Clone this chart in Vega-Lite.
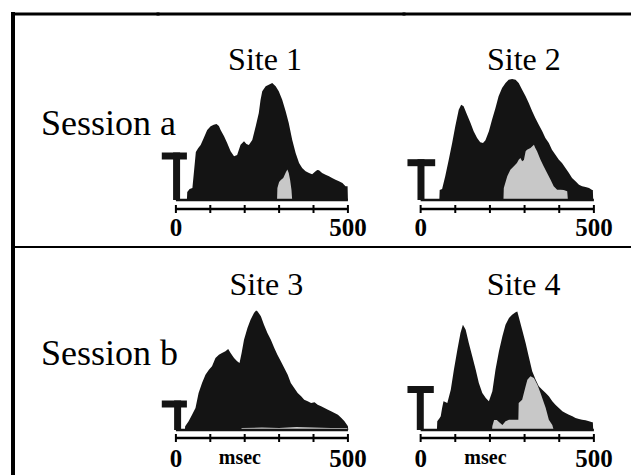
{
  "$schema": "https://vega.github.io/schema/vega-lite/v6.json",
  "padding": {"left": 10, "top": 11, "right": 0, "bottom": 0},
  "background": "white",
  "columns": 3,
  "spacing": 0,
  "bounds": "flush",
  "align": "each",
  "datasets": {
    "ticks": [{"t": 0}, {"t": 100}, {"t": 200}, {"t": 300}, {"t": 400}, {"t": 500}],
    "labels": [{"t": 0, "lab": "0"}, {"t": 500, "lab": "500"}],
    "hist": [
      {"p": "s1", "k": "h", "t": 32, "v": 0}, {"p": "s1", "k": "h", "t": 33, "v": 8}, {"p": "s1", "k": "h", "t": 40, "v": 11}, {"p": "s1", "k": "h", "t": 48, "v": 12}, {"p": "s1", "k": "h", "t": 53, "v": 30}, {"p": "s1", "k": "h", "t": 58, "v": 48}, {"p": "s1", "k": "h", "t": 65, "v": 52}, {"p": "s1", "k": "h", "t": 72, "v": 55}, {"p": "s1", "k": "h", "t": 81, "v": 62}, {"p": "s1", "k": "h", "t": 91, "v": 70}, {"p": "s1", "k": "h", "t": 101, "v": 73.7}, {"p": "s1", "k": "h", "t": 110, "v": 75.3}, {"p": "s1", "k": "h", "t": 118, "v": 76}, {"p": "s1", "k": "h", "t": 125, "v": 74}, {"p": "s1", "k": "h", "t": 130, "v": 70}, {"p": "s1", "k": "h", "t": 140, "v": 63.7}, {"p": "s1", "k": "h", "t": 149, "v": 57}, {"p": "s1", "k": "h", "t": 159, "v": 48.7}, {"p": "s1", "k": "h", "t": 169, "v": 43.7}, {"p": "s1", "k": "h", "t": 178, "v": 45}, {"p": "s1", "k": "h", "t": 188, "v": 55.3}, {"p": "s1", "k": "h", "t": 198, "v": 58.7}, {"p": "s1", "k": "h", "t": 205, "v": 56}, {"p": "s1", "k": "h", "t": 212, "v": 55}, {"p": "s1", "k": "h", "t": 222, "v": 60}, {"p": "s1", "k": "h", "t": 232, "v": 73.7}, {"p": "s1", "k": "h", "t": 241, "v": 87}, {"p": "s1", "k": "h", "t": 246, "v": 100}, {"p": "s1", "k": "h", "t": 251, "v": 108.7}, {"p": "s1", "k": "h", "t": 261, "v": 113.7}, {"p": "s1", "k": "h", "t": 270, "v": 115.3}, {"p": "s1", "k": "h", "t": 280, "v": 117}, {"p": "s1", "k": "h", "t": 290, "v": 113.7}, {"p": "s1", "k": "h", "t": 299, "v": 108.7}, {"p": "s1", "k": "h", "t": 309, "v": 100.3}, {"p": "s1", "k": "h", "t": 319, "v": 88.7}, {"p": "s1", "k": "h", "t": 328, "v": 77}, {"p": "s1", "k": "h", "t": 338, "v": 60.3}, {"p": "s1", "k": "h", "t": 348, "v": 47}, {"p": "s1", "k": "h", "t": 358, "v": 37}, {"p": "s1", "k": "h", "t": 367, "v": 32}, {"p": "s1", "k": "h", "t": 377, "v": 28.7}, {"p": "s1", "k": "h", "t": 387, "v": 27}, {"p": "s1", "k": "h", "t": 396, "v": 25.7}, {"p": "s1", "k": "h", "t": 406, "v": 28.7}, {"p": "s1", "k": "h", "t": 411, "v": 30}, {"p": "s1", "k": "h", "t": 416, "v": 29.7}, {"p": "s1", "k": "h", "t": 425, "v": 27}, {"p": "s1", "k": "h", "t": 435, "v": 25.3}, {"p": "s1", "k": "h", "t": 445, "v": 23.7}, {"p": "s1", "k": "h", "t": 454, "v": 22}, {"p": "s1", "k": "h", "t": 464, "v": 20.3}, {"p": "s1", "k": "h", "t": 474, "v": 18.7}, {"p": "s1", "k": "h", "t": 484, "v": 17}, {"p": "s1", "k": "h", "t": 493, "v": 13.7}, {"p": "s1", "k": "h", "t": 499, "v": 13.7}, {"p": "s1", "k": "h", "t": 500, "v": 0},
      {"p": "s1", "k": "s", "t": 294, "v": 0}, {"p": "s1", "k": "s", "t": 295, "v": 12}, {"p": "s1", "k": "s", "t": 300, "v": 18}, {"p": "s1", "k": "s", "t": 305, "v": 20}, {"p": "s1", "k": "s", "t": 312, "v": 22}, {"p": "s1", "k": "s", "t": 316, "v": 25}, {"p": "s1", "k": "s", "t": 320, "v": 28}, {"p": "s1", "k": "s", "t": 324, "v": 30.5}, {"p": "s1", "k": "s", "t": 328, "v": 27}, {"p": "s1", "k": "s", "t": 332, "v": 20}, {"p": "s1", "k": "s", "t": 336, "v": 10}, {"p": "s1", "k": "s", "t": 338, "v": 0},
      {"p": "s2", "k": "h", "t": 54, "v": 0}, {"p": "s2", "k": "h", "t": 55, "v": 10}, {"p": "s2", "k": "h", "t": 62, "v": 11}, {"p": "s2", "k": "h", "t": 71, "v": 23.7}, {"p": "s2", "k": "h", "t": 81, "v": 40}, {"p": "s2", "k": "h", "t": 91, "v": 57}, {"p": "s2", "k": "h", "t": 100, "v": 73.7}, {"p": "s2", "k": "h", "t": 110, "v": 90.3}, {"p": "s2", "k": "h", "t": 117, "v": 95.3}, {"p": "s2", "k": "h", "t": 124, "v": 93.7}, {"p": "s2", "k": "h", "t": 134, "v": 85.3}, {"p": "s2", "k": "h", "t": 144, "v": 77}, {"p": "s2", "k": "h", "t": 153, "v": 68.7}, {"p": "s2", "k": "h", "t": 163, "v": 62}, {"p": "s2", "k": "h", "t": 172, "v": 57.7}, {"p": "s2", "k": "h", "t": 180, "v": 57}, {"p": "s2", "k": "h", "t": 187, "v": 59.7}, {"p": "s2", "k": "h", "t": 197, "v": 68.7}, {"p": "s2", "k": "h", "t": 206, "v": 80.3}, {"p": "s2", "k": "h", "t": 216, "v": 92}, {"p": "s2", "k": "h", "t": 225, "v": 103.7}, {"p": "s2", "k": "h", "t": 235, "v": 112}, {"p": "s2", "k": "h", "t": 245, "v": 117}, {"p": "s2", "k": "h", "t": 254, "v": 120.3}, {"p": "s2", "k": "h", "t": 264, "v": 121}, {"p": "s2", "k": "h", "t": 274, "v": 120.3}, {"p": "s2", "k": "h", "t": 283, "v": 117}, {"p": "s2", "k": "h", "t": 293, "v": 110.3}, {"p": "s2", "k": "h", "t": 303, "v": 103.7}, {"p": "s2", "k": "h", "t": 312, "v": 97}, {"p": "s2", "k": "h", "t": 322, "v": 88.7}, {"p": "s2", "k": "h", "t": 331, "v": 82}, {"p": "s2", "k": "h", "t": 341, "v": 75.3}, {"p": "s2", "k": "h", "t": 351, "v": 68.7}, {"p": "s2", "k": "h", "t": 360, "v": 62}, {"p": "s2", "k": "h", "t": 370, "v": 57}, {"p": "s2", "k": "h", "t": 379, "v": 50.3}, {"p": "s2", "k": "h", "t": 389, "v": 45.3}, {"p": "s2", "k": "h", "t": 399, "v": 40.3}, {"p": "s2", "k": "h", "t": 408, "v": 37}, {"p": "s2", "k": "h", "t": 418, "v": 32}, {"p": "s2", "k": "h", "t": 428, "v": 27}, {"p": "s2", "k": "h", "t": 437, "v": 22}, {"p": "s2", "k": "h", "t": 447, "v": 18.7}, {"p": "s2", "k": "h", "t": 457, "v": 15.3}, {"p": "s2", "k": "h", "t": 466, "v": 13.7}, {"p": "s2", "k": "h", "t": 476, "v": 13}, {"p": "s2", "k": "h", "t": 486, "v": 12}, {"p": "s2", "k": "h", "t": 495, "v": 10}, {"p": "s2", "k": "h", "t": 497, "v": 10}, {"p": "s2", "k": "h", "t": 498, "v": 0},
      {"p": "s2", "k": "s", "t": 239, "v": 0}, {"p": "s2", "k": "s", "t": 240, "v": 12}, {"p": "s2", "k": "s", "t": 250, "v": 23.7}, {"p": "s2", "k": "s", "t": 259, "v": 30.3}, {"p": "s2", "k": "s", "t": 269, "v": 33.7}, {"p": "s2", "k": "s", "t": 278, "v": 37}, {"p": "s2", "k": "s", "t": 283, "v": 40.3}, {"p": "s2", "k": "s", "t": 288, "v": 42}, {"p": "s2", "k": "s", "t": 293, "v": 38.7}, {"p": "s2", "k": "s", "t": 298, "v": 40}, {"p": "s2", "k": "s", "t": 303, "v": 48.7}, {"p": "s2", "k": "s", "t": 307, "v": 50.3}, {"p": "s2", "k": "s", "t": 317, "v": 52}, {"p": "s2", "k": "s", "t": 327, "v": 55.3}, {"p": "s2", "k": "s", "t": 331, "v": 52}, {"p": "s2", "k": "s", "t": 336, "v": 48.7}, {"p": "s2", "k": "s", "t": 346, "v": 40.3}, {"p": "s2", "k": "s", "t": 355, "v": 33.7}, {"p": "s2", "k": "s", "t": 365, "v": 27}, {"p": "s2", "k": "s", "t": 375, "v": 20.3}, {"p": "s2", "k": "s", "t": 384, "v": 13.7}, {"p": "s2", "k": "s", "t": 394, "v": 10.3}, {"p": "s2", "k": "s", "t": 404, "v": 10.3}, {"p": "s2", "k": "s", "t": 413, "v": 10}, {"p": "s2", "k": "s", "t": 423, "v": 8.7}, {"p": "s2", "k": "s", "t": 425, "v": 0},
      {"p": "s3", "k": "h", "t": 26, "v": 0}, {"p": "s3", "k": "h", "t": 27, "v": 3.7}, {"p": "s3", "k": "h", "t": 37, "v": 8.7}, {"p": "s3", "k": "h", "t": 47, "v": 15.3}, {"p": "s3", "k": "h", "t": 57, "v": 22}, {"p": "s3", "k": "h", "t": 66, "v": 37}, {"p": "s3", "k": "h", "t": 76, "v": 47}, {"p": "s3", "k": "h", "t": 86, "v": 55.3}, {"p": "s3", "k": "h", "t": 96, "v": 60.3}, {"p": "s3", "k": "h", "t": 105, "v": 63.7}, {"p": "s3", "k": "h", "t": 115, "v": 72}, {"p": "s3", "k": "h", "t": 125, "v": 75.3}, {"p": "s3", "k": "h", "t": 134, "v": 77}, {"p": "s3", "k": "h", "t": 144, "v": 78.7}, {"p": "s3", "k": "h", "t": 152, "v": 81}, {"p": "s3", "k": "h", "t": 159, "v": 77}, {"p": "s3", "k": "h", "t": 169, "v": 72}, {"p": "s3", "k": "h", "t": 178, "v": 68.7}, {"p": "s3", "k": "h", "t": 185, "v": 67}, {"p": "s3", "k": "h", "t": 191, "v": 77}, {"p": "s3", "k": "h", "t": 198, "v": 90.3}, {"p": "s3", "k": "h", "t": 208, "v": 102}, {"p": "s3", "k": "h", "t": 217, "v": 110.3}, {"p": "s3", "k": "h", "t": 227, "v": 117}, {"p": "s3", "k": "h", "t": 233, "v": 119.5}, {"p": "s3", "k": "h", "t": 237, "v": 118.7}, {"p": "s3", "k": "h", "t": 247, "v": 113.7}, {"p": "s3", "k": "h", "t": 256, "v": 105.3}, {"p": "s3", "k": "h", "t": 266, "v": 97}, {"p": "s3", "k": "h", "t": 276, "v": 90.3}, {"p": "s3", "k": "h", "t": 286, "v": 82}, {"p": "s3", "k": "h", "t": 295, "v": 75.3}, {"p": "s3", "k": "h", "t": 305, "v": 68.7}, {"p": "s3", "k": "h", "t": 315, "v": 62}, {"p": "s3", "k": "h", "t": 325, "v": 55.3}, {"p": "s3", "k": "h", "t": 334, "v": 47}, {"p": "s3", "k": "h", "t": 344, "v": 42}, {"p": "s3", "k": "h", "t": 354, "v": 37}, {"p": "s3", "k": "h", "t": 364, "v": 33.7}, {"p": "s3", "k": "h", "t": 373, "v": 30.3}, {"p": "s3", "k": "h", "t": 383, "v": 28.7}, {"p": "s3", "k": "h", "t": 393, "v": 27}, {"p": "s3", "k": "h", "t": 403, "v": 27.7}, {"p": "s3", "k": "h", "t": 412, "v": 25.3}, {"p": "s3", "k": "h", "t": 422, "v": 23.7}, {"p": "s3", "k": "h", "t": 432, "v": 22}, {"p": "s3", "k": "h", "t": 442, "v": 20.3}, {"p": "s3", "k": "h", "t": 451, "v": 18.7}, {"p": "s3", "k": "h", "t": 461, "v": 17}, {"p": "s3", "k": "h", "t": 471, "v": 15.3}, {"p": "s3", "k": "h", "t": 481, "v": 12}, {"p": "s3", "k": "h", "t": 490, "v": 8.7}, {"p": "s3", "k": "h", "t": 500, "v": 3.7}, {"p": "s3", "k": "h", "t": 501, "v": 0},
      {"p": "s3", "k": "s", "t": 190, "v": 0}, {"p": "s3", "k": "s", "t": 191, "v": 2}, {"p": "s3", "k": "s", "t": 250, "v": 2.5}, {"p": "s3", "k": "s", "t": 300, "v": 2}, {"p": "s3", "k": "s", "t": 350, "v": 3}, {"p": "s3", "k": "s", "t": 400, "v": 2.5}, {"p": "s3", "k": "s", "t": 450, "v": 2}, {"p": "s3", "k": "s", "t": 498, "v": 2}, {"p": "s3", "k": "s", "t": 499, "v": 0},
      {"p": "s4", "k": "h", "t": 47, "v": 0}, {"p": "s4", "k": "h", "t": 48, "v": 8.7}, {"p": "s4", "k": "h", "t": 55, "v": 12}, {"p": "s4", "k": "h", "t": 58, "v": 13.7}, {"p": "s4", "k": "h", "t": 62, "v": 22}, {"p": "s4", "k": "h", "t": 66, "v": 28.7}, {"p": "s4", "k": "h", "t": 71, "v": 28}, {"p": "s4", "k": "h", "t": 77, "v": 27}, {"p": "s4", "k": "h", "t": 87, "v": 40.3}, {"p": "s4", "k": "h", "t": 96, "v": 60.3}, {"p": "s4", "k": "h", "t": 106, "v": 80.3}, {"p": "s4", "k": "h", "t": 115, "v": 97}, {"p": "s4", "k": "h", "t": 122, "v": 105.3}, {"p": "s4", "k": "h", "t": 130, "v": 100.3}, {"p": "s4", "k": "h", "t": 139, "v": 87}, {"p": "s4", "k": "h", "t": 149, "v": 73.7}, {"p": "s4", "k": "h", "t": 159, "v": 60.3}, {"p": "s4", "k": "h", "t": 168, "v": 47}, {"p": "s4", "k": "h", "t": 178, "v": 37}, {"p": "s4", "k": "h", "t": 188, "v": 32}, {"p": "s4", "k": "h", "t": 197, "v": 28.7}, {"p": "s4", "k": "h", "t": 207, "v": 38.7}, {"p": "s4", "k": "h", "t": 216, "v": 60.3}, {"p": "s4", "k": "h", "t": 226, "v": 78.7}, {"p": "s4", "k": "h", "t": 236, "v": 93.7}, {"p": "s4", "k": "h", "t": 245, "v": 105.3}, {"p": "s4", "k": "h", "t": 255, "v": 112}, {"p": "s4", "k": "h", "t": 264, "v": 115.3}, {"p": "s4", "k": "h", "t": 274, "v": 117.7}, {"p": "s4", "k": "h", "t": 279, "v": 118.5}, {"p": "s4", "k": "h", "t": 284, "v": 112}, {"p": "s4", "k": "h", "t": 293, "v": 100.3}, {"p": "s4", "k": "h", "t": 303, "v": 87}, {"p": "s4", "k": "h", "t": 313, "v": 72}, {"p": "s4", "k": "h", "t": 322, "v": 58.7}, {"p": "s4", "k": "h", "t": 332, "v": 50.3}, {"p": "s4", "k": "h", "t": 341, "v": 43.7}, {"p": "s4", "k": "h", "t": 351, "v": 40.3}, {"p": "s4", "k": "h", "t": 361, "v": 37}, {"p": "s4", "k": "h", "t": 370, "v": 33.7}, {"p": "s4", "k": "h", "t": 380, "v": 28.7}, {"p": "s4", "k": "h", "t": 389, "v": 25.3}, {"p": "s4", "k": "h", "t": 399, "v": 22}, {"p": "s4", "k": "h", "t": 409, "v": 18.7}, {"p": "s4", "k": "h", "t": 418, "v": 17}, {"p": "s4", "k": "h", "t": 428, "v": 15.3}, {"p": "s4", "k": "h", "t": 438, "v": 13.7}, {"p": "s4", "k": "h", "t": 447, "v": 12}, {"p": "s4", "k": "h", "t": 457, "v": 11}, {"p": "s4", "k": "h", "t": 466, "v": 10.3}, {"p": "s4", "k": "h", "t": 476, "v": 9.7}, {"p": "s4", "k": "h", "t": 486, "v": 8.7}, {"p": "s4", "k": "h", "t": 495, "v": 7.7}, {"p": "s4", "k": "h", "t": 497, "v": 7.7}, {"p": "s4", "k": "h", "t": 498, "v": 0},
      {"p": "s4", "k": "s", "t": 206, "v": 0}, {"p": "s4", "k": "s", "t": 207, "v": 4}, {"p": "s4", "k": "s", "t": 212, "v": 10}, {"p": "s4", "k": "s", "t": 220, "v": 10}, {"p": "s4", "k": "s", "t": 226, "v": 8}, {"p": "s4", "k": "s", "t": 236, "v": 5}, {"p": "s4", "k": "s", "t": 245, "v": 8.7}, {"p": "s4", "k": "s", "t": 255, "v": 10.3}, {"p": "s4", "k": "s", "t": 274, "v": 10.3}, {"p": "s4", "k": "s", "t": 282, "v": 10.3}, {"p": "s4", "k": "s", "t": 283, "v": 27}, {"p": "s4", "k": "s", "t": 293, "v": 30.3}, {"p": "s4", "k": "s", "t": 303, "v": 43.7}, {"p": "s4", "k": "s", "t": 308, "v": 50.3}, {"p": "s4", "k": "s", "t": 317, "v": 53.7}, {"p": "s4", "k": "s", "t": 327, "v": 52}, {"p": "s4", "k": "s", "t": 337, "v": 45.3}, {"p": "s4", "k": "s", "t": 346, "v": 37}, {"p": "s4", "k": "s", "t": 356, "v": 27}, {"p": "s4", "k": "s", "t": 361, "v": 22}, {"p": "s4", "k": "s", "t": 370, "v": 10.3}, {"p": "s4", "k": "s", "t": 380, "v": 5}, {"p": "s4", "k": "s", "t": 384, "v": 0}
    ]
  },
  "concat": [
    {
      "width": 145, "height": 233,
      "data": {"values": [{"label": "Session a"}]},
      "layer": [
        {"mark": {"type": "text", "align": "left", "baseline": "alphabetic", "fontSize": 36, "font": "Liberation Serif", "color": "black"},
         "encoding": {"x": {"datum": 28, "type": "quantitative", "scale": {"domain": [0, 145], "nice": false, "zero": false}, "axis": null},
                      "y": {"datum": 65, "type": "quantitative", "scale": {"domain": [-47, 186], "nice": false, "zero": false}},
                      "text": {"field": "label"}}},
        {"mark": {"type": "rule", "strokeWidth": 4, "color": "black", "strokeCap": "square"}, "encoding": {"x": {"datum": 0, "type": "quantitative", "axis": null}}},
        {"mark": {"type": "rule", "strokeWidth": 3, "color": "black", "strokeCap": "square"}, "encoding": {"y": {"datum": 186, "type": "quantitative"}}}
      ]
    },
    {
      "width": 246, "height": 233,
      "layer": [
        {"data": {"name": "hist"}, "transform": [{"filter": "datum.p == 's1' && datum.k == 'h'"}],
         "mark": {"type": "area", "color": "#141414", "interpolate": "linear"},
         "encoding": {"x": {"field": "t", "type": "quantitative", "scale": {"domain": [-52, 663], "nice": false, "zero": false}, "axis": null},
                      "y": {"field": "v", "type": "quantitative", "stack": null, "scale": {"domain": [-47, 186], "nice": false, "zero": false}}}},
        {"data": {"name": "hist"}, "transform": [{"filter": "datum.p == 's1' && datum.k == 's'"}],
         "mark": {"type": "area", "color": "#c8c8c8", "interpolate": "linear"},
         "encoding": {"x": {"field": "t", "type": "quantitative", "axis": null}, "y": {"field": "v", "type": "quantitative", "stack": null}}},
        {"data": {"values": [{}]}, "mark": {"type": "rule", "strokeWidth": 3, "color": "black", "strokeCap": "square"},
         "encoding": {"y": {"datum": 186, "type": "quantitative"}}},
        {"data": {"values": [{}]}, "mark": {"type": "rule", "strokeWidth": 2.5, "color": "#141414"},
         "encoding": {"x": {"datum": 0, "type": "quantitative", "axis": null}, "x2": {"datum": 500}, "y": {"datum": 0, "type": "quantitative"}}},
        {"data": {"values": [{}]}, "mark": {"type": "rule", "strokeWidth": 7, "color": "#141414"},
         "encoding": {"x": {"datum": 2, "type": "quantitative", "axis": null}, "y": {"datum": 0, "type": "quantitative"}, "y2": {"datum": 47.5}}},
        {"data": {"values": [{}]}, "mark": {"type": "rule", "strokeWidth": 7, "color": "#141414"},
         "encoding": {"x": {"datum": -41, "type": "quantitative", "axis": null}, "x2": {"datum": 32}, "y": {"datum": 44, "type": "quantitative"}}},
        {"data": {"values": [{}]}, "mark": {"type": "rule", "strokeWidth": 2.5, "color": "black"},
         "encoding": {"x": {"datum": 0, "type": "quantitative", "axis": null}, "x2": {"datum": 500}, "y": {"datum": -9, "type": "quantitative"}}},
        {"data": {"name": "ticks"}, "mark": {"type": "tick", "orient": "vertical", "size": 8, "thickness": 2, "color": "black", "opacity": 1},
         "encoding": {"x": {"field": "t", "type": "quantitative", "axis": null}, "y": {"datum": -9, "type": "quantitative"}}},
        {"data": {"name": "labels"}, "mark": {"type": "text", "fontSize": 25, "fontWeight": "bold", "font": "Liberation Serif", "baseline": "alphabetic", "align": "center", "color": "black"},
         "encoding": {"x": {"field": "t", "type": "quantitative", "axis": null}, "y": {"datum": -36, "type": "quantitative"}, "text": {"field": "lab"}}},
        {"data": {"values": [{"site": "Site 1"}]}, "mark": {"type": "text", "fontSize": 32, "font": "Liberation Serif", "baseline": "alphabetic", "align": "center", "color": "black"},
         "encoding": {"x": {"datum": 259, "type": "quantitative", "axis": null}, "y": {"datum": 130, "type": "quantitative"}, "text": {"field": "site"}}}
      ]
    },
    {
      "width": 228, "height": 233,
      "layer": [
        {"data": {"name": "hist"}, "transform": [{"filter": "datum.p == 's2' && datum.k == 'h'"}],
         "mark": {"type": "area", "color": "#141414", "interpolate": "linear"},
         "encoding": {"x": {"field": "t", "type": "quantitative", "scale": {"domain": [-48, 610], "nice": false, "zero": false}, "axis": null},
                      "y": {"field": "v", "type": "quantitative", "stack": null, "scale": {"domain": [-47, 186], "nice": false, "zero": false}}}},
        {"data": {"name": "hist"}, "transform": [{"filter": "datum.p == 's2' && datum.k == 's'"}],
         "mark": {"type": "area", "color": "#c8c8c8", "interpolate": "linear"},
         "encoding": {"x": {"field": "t", "type": "quantitative", "axis": null}, "y": {"field": "v", "type": "quantitative", "stack": null}}},
        {"data": {"values": [{}]}, "mark": {"type": "rule", "strokeWidth": 3, "color": "black", "strokeCap": "square"},
         "encoding": {"y": {"datum": 186, "type": "quantitative"}}},
        {"data": {"values": [{}]}, "mark": {"type": "rule", "strokeWidth": 2, "color": "black"},
         "encoding": {"x": {"datum": 610, "type": "quantitative", "axis": null}}},
        {"data": {"values": [{}]}, "mark": {"type": "rule", "strokeWidth": 2.5, "color": "#141414"},
         "encoding": {"x": {"datum": 0, "type": "quantitative", "axis": null}, "x2": {"datum": 500}, "y": {"datum": 0, "type": "quantitative"}}},
        {"data": {"values": [{}]}, "mark": {"type": "rule", "strokeWidth": 7, "color": "#141414"},
         "encoding": {"x": {"datum": 1, "type": "quantitative", "axis": null}, "y": {"datum": 0, "type": "quantitative"}, "y2": {"datum": 40.8}}},
        {"data": {"values": [{}]}, "mark": {"type": "rule", "strokeWidth": 7, "color": "#141414"},
         "encoding": {"x": {"datum": -38, "type": "quantitative", "axis": null}, "x2": {"datum": 42}, "y": {"datum": 37.3, "type": "quantitative"}}},
        {"data": {"values": [{}]}, "mark": {"type": "rule", "strokeWidth": 2.5, "color": "black"},
         "encoding": {"x": {"datum": 0, "type": "quantitative", "axis": null}, "x2": {"datum": 500}, "y": {"datum": -9, "type": "quantitative"}}},
        {"data": {"name": "ticks"}, "mark": {"type": "tick", "orient": "vertical", "size": 8, "thickness": 2, "color": "black", "opacity": 1},
         "encoding": {"x": {"field": "t", "type": "quantitative", "axis": null}, "y": {"datum": -9, "type": "quantitative"}}},
        {"data": {"name": "labels"}, "mark": {"type": "text", "fontSize": 25, "fontWeight": "bold", "font": "Liberation Serif", "baseline": "alphabetic", "align": "center", "color": "black"},
         "encoding": {"x": {"field": "t", "type": "quantitative", "axis": null}, "y": {"datum": -36, "type": "quantitative"}, "text": {"field": "lab"}}},
        {"data": {"values": [{"site": "Site 2"}]}, "mark": {"type": "text", "fontSize": 32, "font": "Liberation Serif", "baseline": "alphabetic", "align": "center", "color": "black"},
         "encoding": {"x": {"datum": 298, "type": "quantitative", "axis": null}, "y": {"datum": 130, "type": "quantitative"}, "text": {"field": "site"}}}
      ]
    },
    {
      "width": 145, "height": 231,
      "data": {"values": [{"label": "Session b"}]},
      "layer": [
        {"mark": {"type": "text", "align": "left", "baseline": "alphabetic", "fontSize": 36, "font": "Liberation Serif", "color": "black"},
         "encoding": {"x": {"datum": 28, "type": "quantitative", "scale": {"domain": [0, 145], "nice": false, "zero": false}, "axis": null},
                      "y": {"datum": 65, "type": "quantitative", "scale": {"domain": [-48, 183], "nice": false, "zero": false}},
                      "text": {"field": "label"}}},
        {"mark": {"type": "rule", "strokeWidth": 4, "color": "black", "strokeCap": "square"}, "encoding": {"x": {"datum": 0, "type": "quantitative", "axis": null}}},
        {"mark": {"type": "rule", "strokeWidth": 2, "color": "black"}, "encoding": {"y": {"datum": 183, "type": "quantitative"}}}
      ]
    },
    {
      "width": 246, "height": 231,
      "layer": [
        {"data": {"name": "hist"}, "transform": [{"filter": "datum.p == 's3' && datum.k == 'h'"}],
         "mark": {"type": "area", "color": "#141414", "interpolate": "linear"},
         "encoding": {"x": {"field": "t", "type": "quantitative", "scale": {"domain": [-52, 663], "nice": false, "zero": false}, "axis": null},
                      "y": {"field": "v", "type": "quantitative", "stack": null, "scale": {"domain": [-48, 183], "nice": false, "zero": false}}}},
        {"data": {"name": "hist"}, "transform": [{"filter": "datum.p == 's3' && datum.k == 's'"}],
         "mark": {"type": "area", "color": "#c8c8c8", "interpolate": "linear"},
         "encoding": {"x": {"field": "t", "type": "quantitative", "axis": null}, "y": {"field": "v", "type": "quantitative", "stack": null}}},
        {"data": {"values": [{}]}, "mark": {"type": "rule", "strokeWidth": 2, "color": "black"},
         "encoding": {"y": {"datum": 183, "type": "quantitative"}}},
        {"data": {"values": [{}]}, "mark": {"type": "rule", "strokeWidth": 2.5, "color": "#141414"},
         "encoding": {"x": {"datum": 0, "type": "quantitative", "axis": null}, "x2": {"datum": 500}, "y": {"datum": 0, "type": "quantitative"}}},
        {"data": {"values": [{}]}, "mark": {"type": "rule", "strokeWidth": 7, "color": "#141414"},
         "encoding": {"x": {"datum": 5, "type": "quantitative", "axis": null}, "y": {"datum": 0, "type": "quantitative"}, "y2": {"datum": 29.5}}},
        {"data": {"values": [{}]}, "mark": {"type": "rule", "strokeWidth": 7, "color": "#141414"},
         "encoding": {"x": {"datum": -41, "type": "quantitative", "axis": null}, "x2": {"datum": 32}, "y": {"datum": 26, "type": "quantitative"}}},
        {"data": {"values": [{}]}, "mark": {"type": "rule", "strokeWidth": 2.5, "color": "black"},
         "encoding": {"x": {"datum": 0, "type": "quantitative", "axis": null}, "x2": {"datum": 500}, "y": {"datum": -8, "type": "quantitative"}}},
        {"data": {"name": "ticks"}, "mark": {"type": "tick", "orient": "vertical", "size": 8, "thickness": 2, "color": "black", "opacity": 1},
         "encoding": {"x": {"field": "t", "type": "quantitative", "axis": null}, "y": {"datum": -8, "type": "quantitative"}}},
        {"data": {"name": "labels"}, "mark": {"type": "text", "fontSize": 25, "fontWeight": "bold", "font": "Liberation Serif", "baseline": "alphabetic", "align": "center", "color": "black"},
         "encoding": {"x": {"field": "t", "type": "quantitative", "axis": null}, "y": {"datum": -37, "type": "quantitative"}, "text": {"field": "lab"}}},
        {"data": {"values": [{"unit": "msec"}]}, "mark": {"type": "text", "fontSize": 20, "fontWeight": "bold", "font": "Liberation Serif", "baseline": "alphabetic", "align": "center", "color": "black"},
         "encoding": {"x": {"datum": 186, "type": "quantitative", "axis": null}, "y": {"datum": -34, "type": "quantitative"}, "text": {"field": "unit"}}},
        {"data": {"values": [{"site": "Site 3"}]}, "mark": {"type": "text", "fontSize": 32, "font": "Liberation Serif", "baseline": "alphabetic", "align": "center", "color": "black"},
         "encoding": {"x": {"datum": 263, "type": "quantitative", "axis": null}, "y": {"datum": 135, "type": "quantitative"}, "text": {"field": "site"}}}
      ]
    },
    {
      "width": 228, "height": 231,
      "layer": [
        {"data": {"name": "hist"}, "transform": [{"filter": "datum.p == 's4' && datum.k == 'h'"}],
         "mark": {"type": "area", "color": "#141414", "interpolate": "linear"},
         "encoding": {"x": {"field": "t", "type": "quantitative", "scale": {"domain": [-48, 610], "nice": false, "zero": false}, "axis": null},
                      "y": {"field": "v", "type": "quantitative", "stack": null, "scale": {"domain": [-48, 183], "nice": false, "zero": false}}}},
        {"data": {"name": "hist"}, "transform": [{"filter": "datum.p == 's4' && datum.k == 's'"}],
         "mark": {"type": "area", "color": "#c8c8c8", "interpolate": "linear"},
         "encoding": {"x": {"field": "t", "type": "quantitative", "axis": null}, "y": {"field": "v", "type": "quantitative", "stack": null}}},
        {"data": {"values": [{}]}, "mark": {"type": "rule", "strokeWidth": 2, "color": "black"},
         "encoding": {"y": {"datum": 183, "type": "quantitative"}}},
        {"data": {"values": [{}]}, "mark": {"type": "rule", "strokeWidth": 1, "color": "#999999"},
         "encoding": {"x": {"datum": 610, "type": "quantitative", "axis": null}}},
        {"data": {"values": [{}]}, "mark": {"type": "rule", "strokeWidth": 2.5, "color": "#141414"},
         "encoding": {"x": {"datum": 0, "type": "quantitative", "axis": null}, "x2": {"datum": 500}, "y": {"datum": 0, "type": "quantitative"}}},
        {"data": {"values": [{}]}, "mark": {"type": "rule", "strokeWidth": 7, "color": "#141414"},
         "encoding": {"x": {"datum": -1, "type": "quantitative", "axis": null}, "y": {"datum": 0, "type": "quantitative"}, "y2": {"datum": 44}}},
        {"data": {"values": [{}]}, "mark": {"type": "rule", "strokeWidth": 7, "color": "#141414"},
         "encoding": {"x": {"datum": -38, "type": "quantitative", "axis": null}, "x2": {"datum": 38}, "y": {"datum": 40.5, "type": "quantitative"}}},
        {"data": {"values": [{}]}, "mark": {"type": "rule", "strokeWidth": 2.5, "color": "black"},
         "encoding": {"x": {"datum": 0, "type": "quantitative", "axis": null}, "x2": {"datum": 500}, "y": {"datum": -8, "type": "quantitative"}}},
        {"data": {"name": "ticks"}, "mark": {"type": "tick", "orient": "vertical", "size": 8, "thickness": 2, "color": "black", "opacity": 1},
         "encoding": {"x": {"field": "t", "type": "quantitative", "axis": null}, "y": {"datum": -8, "type": "quantitative"}}},
        {"data": {"name": "labels"}, "mark": {"type": "text", "fontSize": 25, "fontWeight": "bold", "font": "Liberation Serif", "baseline": "alphabetic", "align": "center", "color": "black"},
         "encoding": {"x": {"field": "t", "type": "quantitative", "axis": null}, "y": {"datum": -37, "type": "quantitative"}, "text": {"field": "lab"}}},
        {"data": {"values": [{"unit": "msec"}]}, "mark": {"type": "text", "fontSize": 20, "fontWeight": "bold", "font": "Liberation Serif", "baseline": "alphabetic", "align": "center", "color": "black"},
         "encoding": {"x": {"datum": 187, "type": "quantitative", "axis": null}, "y": {"datum": -34, "type": "quantitative"}, "text": {"field": "unit"}}},
        {"data": {"values": [{"site": "Site 4"}]}, "mark": {"type": "text", "fontSize": 32, "font": "Liberation Serif", "baseline": "alphabetic", "align": "center", "color": "black"},
         "encoding": {"x": {"datum": 297, "type": "quantitative", "axis": null}, "y": {"datum": 135, "type": "quantitative"}, "text": {"field": "site"}}}
      ]
    }
  ],
  "config": {
    "view": {"stroke": null},
    "axisY": {"disable": true}
  }
}
